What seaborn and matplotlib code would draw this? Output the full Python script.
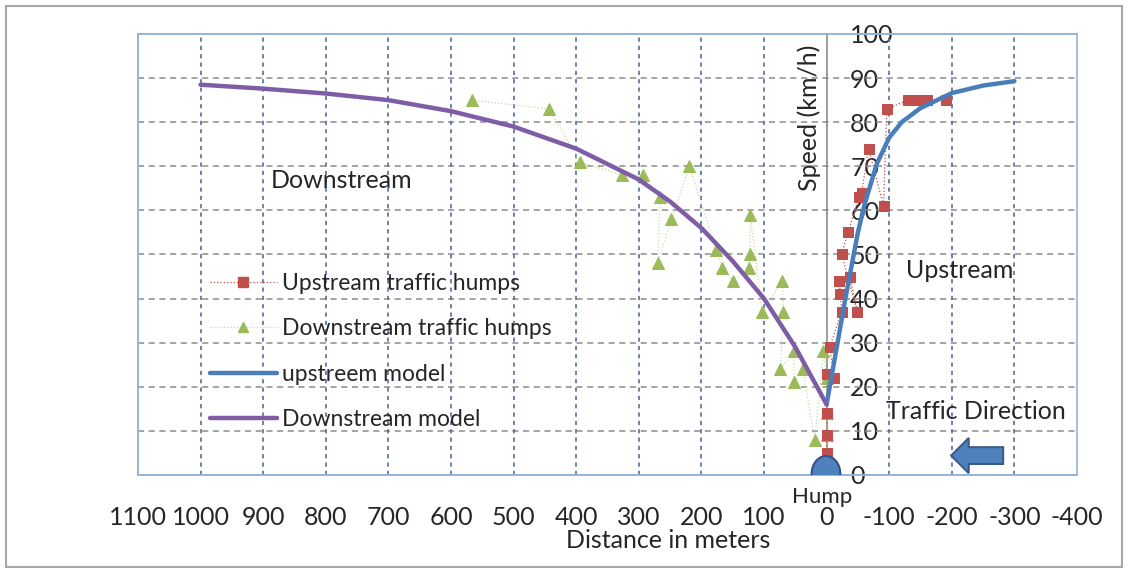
import numpy as np
import pandas as pd
import matplotlib
matplotlib.use("Agg")
import matplotlib.pyplot as plt
import seaborn as sns
from matplotlib.patches import Ellipse, FancyArrow, Rectangle
from matplotlib.lines import Line2D
from matplotlib.ticker import MultipleLocator

# measured speeds around the humps (distance in m, speed in km/h)
up_dist = [0, 0, -1, -1, -12, -5, -24, -22, -20, -37, -49, -24, -34,
           -52, -56, -67, -91, -96, -130, -145, -160, -190]
up_speed = [5, 9, 14, 23, 22, 29, 37, 41, 44, 45, 37, 50, 55,
            63, 64, 74, 61, 83, 85, 85, 85, 85]

down_dist = [567, 443, 394, 327, 294, 266, 270, 248, 219, 176, 167, 149, 124,
             123, 122, 103, 71, 69, 74, 52, 52, 38, 19, 5, 0, 0, 0, 0]
down_speed = [85, 83, 71, 68, 68, 63, 48, 58, 70, 51, 47, 44, 47,
              50, 59, 37, 44, 37, 24, 28, 21, 24, 8, 28, 22, 14, 9, 5]

# fitted models
up_model_x = [0, -10, -20, -30, -40, -50, -60, -80, -100, -120, -150, -200, -250, -300]
up_model_y = [16, 24, 32, 40, 47.5, 55, 61, 70.5, 76.5, 80, 83.2, 86.6, 88.3, 89.3]
down_model_x = [1000, 900, 800, 700, 600, 500, 400, 300, 250, 200, 150, 100, 50, 0]
down_model_y = [88.5, 87.6, 86.5, 85, 82.5, 79, 74, 67, 62, 56, 48.5, 40, 29, 16]

labels = ["Upstream traffic humps", "Downstream traffic humps",
          "upstreem model", "Downstream model"]

RED, GREEN, BLUE, PURPLE = "#C0504D", "#9BBB59", "#4A7EBB", "#7E5DA6"
TXT = "#262626"

sns.set_style("white")
plt.rcParams["font.family"] = ["Lato", "DejaVu Sans"]
plt.rcParams["axes.unicode_minus"] = False
FS = 18

fig = plt.figure(figsize=(11.28, 5.70), dpi=100)
ax = fig.add_axes([0.1223, 0.1667, 0.8325, 0.7737])

sns.lineplot(x=up_dist, y=up_speed, sort=False, estimator=None, ax=ax,
             color=RED, lw=0.9, linestyle=":", marker="s", markersize=7,
             markeredgecolor=RED, zorder=4)
sns.lineplot(x=down_dist, y=down_speed, sort=False, estimator=None, ax=ax,
             color="#C9DBA4", lw=0.9, linestyle=":", marker="^", markersize=8,
             markerfacecolor=GREEN, markeredgecolor=GREEN, zorder=3)
sns.lineplot(x=up_model_x, y=up_model_y, sort=False, estimator=None, ax=ax,
             color=BLUE, lw=3.2, zorder=5)
sns.lineplot(x=down_model_x, y=down_model_y, sort=False, estimator=None, ax=ax,
             color=PURPLE, lw=3.2, zorder=5)

ax.set_xlim(1100, -400)
ax.set_ylim(0, 100)

# grid
ax.xaxis.set_major_locator(MultipleLocator(100))
ax.xaxis.set_minor_locator(MultipleLocator(20))
for v in range(10, 100, 10):
    ax.axhline(v, color="#8C8C8C", lw=1.1, ls=(0, (4, 3)), zorder=1)
for v in range(-300, 1100, 100):
    if v != 0:
        ax.axvline(v, color="#4F6E9E", lw=1.2, ls=(0, (2.5, 2.5)), zorder=1)

# y axis sits at distance 0, labels to its right
ax.yaxis.tick_right()
ax.spines["right"].set_position(("data", 0))
ax.spines["right"].set_color("#8C8C8C")
ax.spines["right"].set_linewidth(1.2)
for s in ["left", "top", "bottom"]:
    ax.spines[s].set_color("#95B3D7")
    ax.spines[s].set_linewidth(1.2)
ax.add_patch(Rectangle((0, 0), 1, 1, transform=ax.transAxes, fill=False,
                       edgecolor="#95B3D7", lw=1.2, clip_on=False, zorder=6))
ax.set_yticks(range(0, 101, 10))
ax.tick_params(axis="y", length=0, pad=17, labelsize=FS, labelcolor=TXT)
ax.tick_params(axis="x", which="both", direction="in", length=5, color="#A6A6A6",
               pad=22, labelsize=FS, labelcolor=TXT)

ax.set_xlabel("Distance in meters", fontsize=FS, color=TXT)
ax.xaxis.set_label_coords(0.565, -0.122)
ax.set_ylabel("Speed (km/h)", fontsize=FS, color=TXT)
ax.yaxis.set_label_position("left")
ax.yaxis.set_label_coords(0.727, 0.81)

# hump and direction arrow
ax.add_patch(Ellipse((1, 0.2), 46, 8.2, facecolor="#4F81BD",
                     edgecolor="#2F528F", lw=1.5, zorder=7))
ax.add_patch(FancyArrow(-282, 4.4, 83, 0, width=3.8, head_width=8, head_length=28,
                        length_includes_head=True, facecolor="#4F81BD",
                        edgecolor="#385D8A", lw=1.5, zorder=7))

ax.text(888, 66.7, "Downstream", fontsize=FS, color=TXT, va="center")
ax.text(-127, 46.3, "Upstream", fontsize=FS, color=TXT, va="center")
ax.text(-95, 14.3, "Traffic Direction", fontsize=FS, color=TXT, va="center")
ax.text(7, -4.9, "Hump", fontsize=16, color=TXT, ha="center", va="center",
        clip_on=False)

handles = [
    Line2D([], [], color=RED, lw=0.9, ls=":", marker="s", markersize=7),
    Line2D([], [], color="#C9DBA4", lw=0.9, ls=":", marker="^", markersize=7,
           markerfacecolor=GREEN, markeredgecolor=GREEN),
    Line2D([], [], color=BLUE, lw=3.2),
    Line2D([], [], color=PURPLE, lw=3.2),
]
ax.legend(handles, labels, loc="upper left", bbox_to_anchor=(0.055, 0.505),
          frameon=False, fontsize=16.5, handlelength=2.9, handletextpad=0.25,
          labelspacing=1.07, labelcolor=TXT)

fig.add_artist(Rectangle((0.005, 0.006), 0.99, 0.984, transform=fig.transFigure,
                         fill=False, edgecolor="#A6A6A6", lw=1.5))

fig.savefig("out.png", dpi=100)
